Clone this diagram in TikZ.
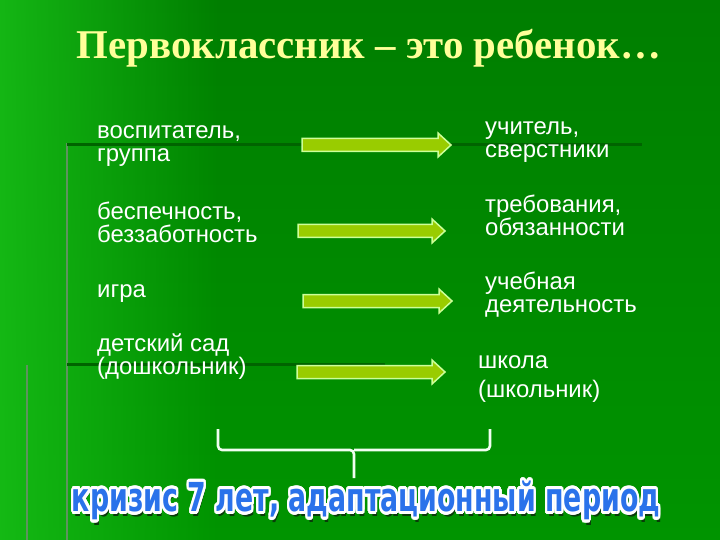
\documentclass[tikz,border=0pt]{standalone}
\usepackage{fontspec}
\setmainfont{Liberation Sans}
\newfontfamily\titlefont{Liberation Serif}
\newfontfamily\crisisfont{DejaVu Sans}
\usepackage{graphicx}
\usepackage{contour}
\contourlength{0.8pt}
\contournumber{24}
\usepackage{tikz}
\usetikzlibrary{calc,positioning,fadings}
\definecolor{bgtop}{HTML}{007E00}
\definecolor{bgbot}{HTML}{009400}
\definecolor{bgleft}{HTML}{18C018}
\definecolor{arrowfill}{HTML}{99CC00}
\definecolor{arrowrim}{HTML}{CCFF99}
\definecolor{titleyellow}{HTML}{FFFF99}
\definecolor{crisisblue}{HTML}{2A72EA}
\definecolor{crisisshade}{HTML}{0A3A0A}
\definecolor{rulegreen}{HTML}{006400}
\definecolor{stemgray}{HTML}{5E945E}
\newcommand{\fatarrow}[2]{%
  \draw[greenarrow] ($(#1)+(0,-6.5)$) -- ($(#2)+(-13,-6.5)$) -- ($(#2)+(-13,-12)$)
    -- (#2) -- ($(#2)+(-13,12)$) -- ($(#2)+(-13,6.5)$) -- ($(#1)+(0,6.5)$) -- cycle;}
\newcommand{\crisistext}{кризис 7 лет, адаптационный период}

\begin{document}
\begin{tikzpicture}[x=1bp,y=-1bp,
    bodytext/.style={text=white,inner sep=0pt,align=left,anchor=west,
      font=\fontsize{24}{23}\selectfont},
    greenarrow/.style={fill=arrowfill,draw=arrowrim,line width=1.5bp,line join=miter},
    bracket/.style={draw=white!94!green,line width=2.6bp,rounded corners=4bp}]
  \useasboundingbox (0,0) rectangle (720,540);
  % background of the slide
  \fill[top color=bgtop,bottom color=bgbot] (0,0) rectangle (720,540);
  \fill[bgleft,opacity=0.85,path fading=east] (0,0) rectangle (220,540);
  \draw[stemgray,line width=2.5bp] (67,143) -- (67,540);
  \draw[stemgray,line width=2.5bp] (27,365) -- (27,540);
  \draw[rulegreen,line width=3bp] (67,145) -- (642,145);
  \draw[rulegreen,line width=3bp] (67,364) -- (385,364);

  \node[text=titleyellow,inner sep=0pt,font=\titlefont\bfseries\fontsize{41}{46}\selectfont]
    (title) at (369,48) {Первоклассник – это ребенок…};

  % before school
  \node[bodytext] (vosp)   at (97,146) {воспитатель,\\группа};
  \node[bodytext] (besp)   at (97,222) {беспечность,\\беззаботность};
  \node[bodytext] (igra)   at (97,294) {игра};
  \node[bodytext] (detsad) at (97,357) {детский сад\\(дошкольник)};
  % at school
  \node[bodytext] (uchit)  at (485,142) {учитель,\\сверстники};
  \node[bodytext] (treb)   at (485,215) {требования,\\обязанности};
  \node[bodytext] (ucheb)  at (485,295) {учебная\\деятельность};
  \node[bodytext,font=\fontsize{24}{29}\selectfont] (shkola) at (478,379) {школа\\(школьник)};

  \coordinate (a1s) at (302,145); \coordinate (a1e) at (451,145);
  \coordinate (a2s) at (298,231); \coordinate (a2e) at (445,231);
  \coordinate (a3s) at (303,301); \coordinate (a3e) at (452,301);
  \coordinate (a4s) at (297,372); \coordinate (a4e) at (445,372);
  \fatarrow{a1s}{a1e}
  \fatarrow{a2s}{a2e}
  \fatarrow{a3s}{a3e}
  \fatarrow{a4s}{a4e}

  % brace over the crisis
  \draw[bracket] (218,429) -- (218,450) -- (354,450) -- (354,478);
  \draw[bracket] (490,429) -- (490,450) -- (354,450);

  \node[inner sep=0pt,text=crisisshade] (crisisshadow) at (368,504)
    {\resizebox*{588bp}{42bp}{\crisisfont\bfseries\crisistext}};
  \node[inner sep=0pt] (crisis) at (366,502)
    {\resizebox*{588bp}{42bp}{\crisisfont\bfseries\contour{white}{\textcolor{crisisblue}{\crisistext}}}};
\end{tikzpicture}
\end{document}
